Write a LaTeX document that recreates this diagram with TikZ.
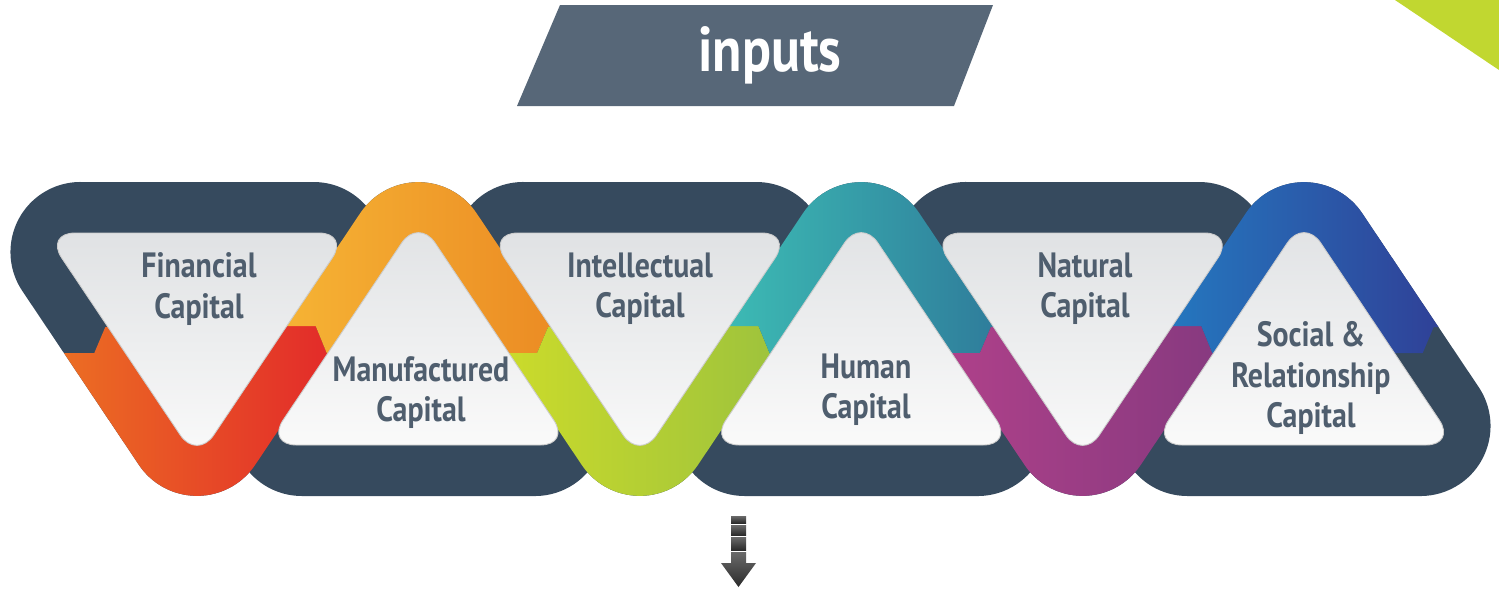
\documentclass[tikz,border=0pt]{standalone}
\usepackage{amsmath}
\usepackage{fontspec}
\setmainfont{PT Sans}[FakeStretch=0.85]
\usepackage{tikz}

\definecolor{ringnavy}{HTML}{364A5E}
\definecolor{titlegray}{HTML}{576778}
\definecolor{labelgray}{HTML}{4F5E6E}
\definecolor{cornerlime}{HTML}{C1D730}
\definecolor{panelA}{HTML}{E0E2E4}
\definecolor{panelB}{HTML}{FAFAFA}
\definecolor{arrowA}{HTML}{6A6A6A}
\definecolor{arrowB}{HTML}{2B2B2B}
\definecolor{finA}{HTML}{EC7023}
\definecolor{finB}{HTML}{E2282A}
\definecolor{manA}{HTML}{F6B535}
\definecolor{manB}{HTML}{EB8A23}
\definecolor{intA}{HTML}{CDDC2A}
\definecolor{intB}{HTML}{9CC23D}
\definecolor{humA}{HTML}{3DBDB5}
\definecolor{humB}{HTML}{2E7A9A}
\definecolor{natA}{HTML}{B0418A}
\definecolor{natB}{HTML}{85397F}
\definecolor{socA}{HTML}{2479C0}
\definecolor{socB}{HTML}{303F96}

\pgfdeclarelayer{rings}
\pgfdeclarelayer{bands}
\pgfsetlayers{rings,bands,main}

\tikzset{
    panel/.style = {top color = panelA, bottom color = panelB, draw = black!20, line width = 0.5pt, rounded corners = 0.6cm},
    captext/.style = {font = {\bfseries\fontsize{20}{22.8}\selectfont}, text = labelgray, align = center},
    chunk/.style = {top color = arrowA, bottom color = arrowB},
}

\newcommand\downlink[3]{%
    \begin{pgfonlayer}{rings}
        \fill[ringnavy] ({#1-116.5}, 182) -- ({#1+116.5}, 182) arc[start angle = -90, end angle = 33.8, radius = 70] -- ({#1+58.2}, 464.8) arc[start angle = 33.8, end angle = 146.2, radius = 70] -- ({#1-174.7}, 290.9) arc[start angle = 146.2, end angle = 270, radius = 70] -- cycle;
    \end{pgfonlayer}
    \begin{pgfonlayer}{bands}
        \begin{scope}
            \clip ({#1-116.5}, 182) -- ({#1+116.5}, 182) arc[start angle = -90, end angle = 33.8, radius = 70] -- ({#1+58.2}, 464.8) arc[start angle = 33.8, end angle = 146.2, radius = 70] -- ({#1-174.7}, 290.9) arc[start angle = 146.2, end angle = 270, radius = 70] -- cycle;
            \clip ({#1-260}, 353) -- ({#1-102.7}, 353) -- ({#1-91.7}, 327) -- ({#1+90.7}, 326) -- ({#1+118.7}, 326) -- ({#1+129.7}, 353) -- ({#1+260}, 353) -- ({#1+260}, 600) -- ({#1-260}, 600) -- cycle;
            \shade[left color = #2, right color = #3] ({#1-145}, 150) rectangle ({#1+145}, 600);
        \end{scope}
    \end{pgfonlayer}
    \path[panel] ({#1-152}, 233) -- ({#1+152}, 233) -- (#1, 460) -- cycle;
}

\newcommand\uplink[3]{%
    \begin{pgfonlayer}{rings}
        \fill[ringnavy] ({#1+116.5}, 496) -- ({#1-116.5}, 496) arc[start angle = 90, end angle = 213.8, radius = 70] -- ({#1-58.2}, 213.2) arc[start angle = 213.8, end angle = 326.2, radius = 70] -- ({#1+174.7}, 387.1) arc[start angle = -33.8, end angle = 90, radius = 70] -- cycle;
    \end{pgfonlayer}
    \begin{pgfonlayer}{bands}
        \begin{scope}
            \clip ({#1+116.5}, 496) -- ({#1-116.5}, 496) arc[start angle = 90, end angle = 213.8, radius = 70] -- ({#1-58.2}, 213.2) arc[start angle = 213.8, end angle = 326.2, radius = 70] -- ({#1+174.7}, 387.1) arc[start angle = -33.8, end angle = 90, radius = 70] -- cycle;
            \clip ({#1-260}, 326) -- ({#1-102.7}, 326) -- ({#1-91.7}, 353) -- ({#1+90.7}, 353) -- ({#1+118.7}, 353) -- ({#1+129.7}, 327) -- ({#1+260}, 327) -- ({#1+260}, 100) -- ({#1-260}, 100) -- cycle;
            \shade[left color = #2, right color = #3] ({#1-145}, 100) rectangle ({#1+145}, 530);
        \end{scope}
    \end{pgfonlayer}
    \path[panel] (#1, 218) -- ({#1+152}, 445) -- ({#1-152}, 445) -- cycle;
}

\begin{document}
\begin{tikzpicture}[x = 0.02cm, y = -0.02cm]
        \useasboundingbox (0, 0) rectangle (1499, 589);
        \fill[cornerlime] (1395, 0) -- (1499, 0) -- (1499, 70) -- cycle;
        \fill[titlegray] (560, 5) -- (993, 5) -- (954, 106) -- (517, 106) -- cycle;
        \node[font = {\bfseries\fontsize{36}{40}\selectfont}, white] (inputs) at (770, 55) {inputs};

        \downlink{197}{finA}{finB}
        \uplink{418.4}{manA}{manB}
        \downlink{639.8}{intA}{intB}
        \uplink{861.2}{humA}{humB}
        \downlink{1082.6}{natA}{natB}
        \uplink{1304}{socA}{socB}

        \node[captext] (fin) at (199, 289) {Financial\\Capital};
        \node[captext] (man) at (421, 393) {Manufactured\\Capital};
        \node[captext] (int) at (640, 289) {Intellectual\\Capital};
        \node[captext] (hum) at (866, 390) {Human\\Capital};
        \node[captext] (nat) at (1085, 289) {Natural\\Capital};
        \node[captext] (soc) at (1311, 378) {Social \&\\Relationship\\Capital};

        \shade[chunk] (731, 516) rectangle (746, 523);
        \shade[chunk] (731, 525) rectangle (746, 535);
        \shade[chunk] (731, 537) rectangle (746, 550);
        \shade[chunk] (731, 552) -- (746, 552) -- (746, 563) -- (756, 563) -- (738.5, 587) -- (721, 563) -- (731, 563) -- cycle;
    \end{tikzpicture}
\end{document}
